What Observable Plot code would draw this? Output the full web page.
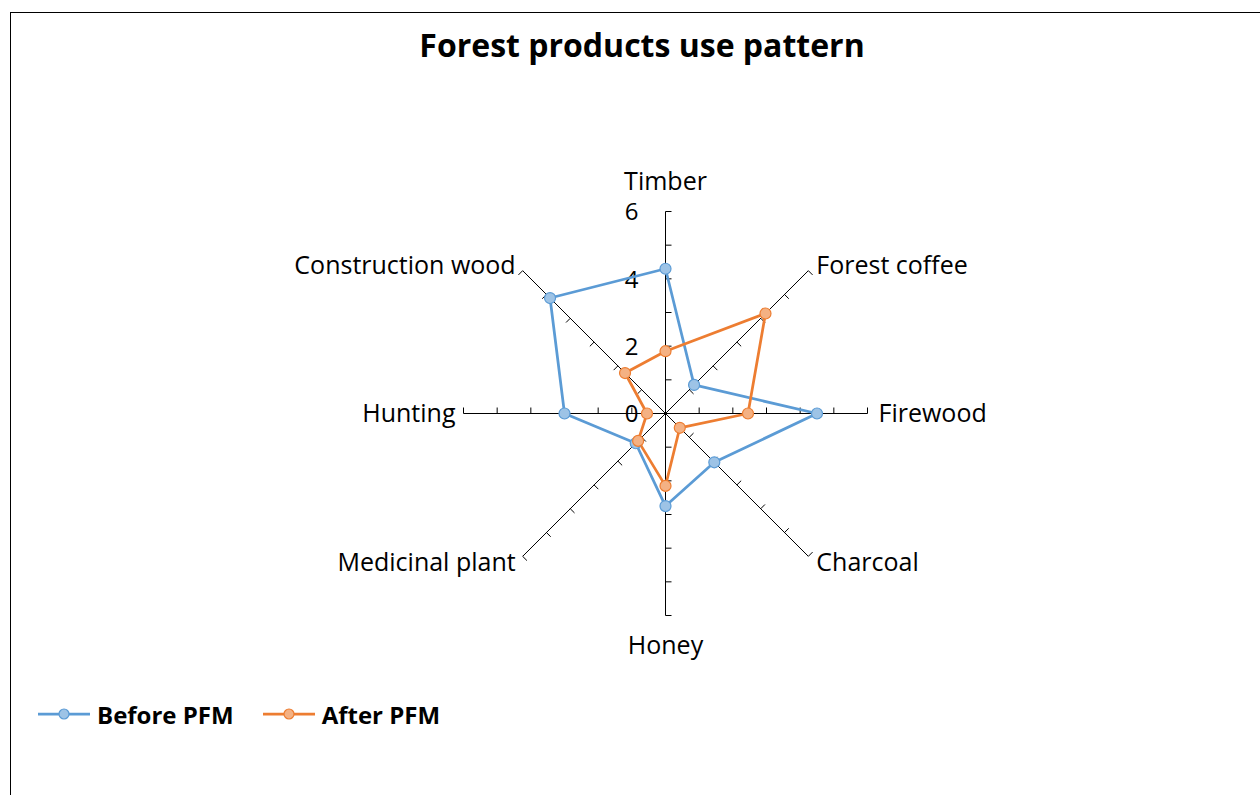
<!DOCTYPE html>
<html><head><meta charset="utf-8">
<script src="https://cdn.jsdelivr.net/npm/d3@7"></script>
<script src="https://cdn.jsdelivr.net/npm/@observablehq/plot@0.6"></script>
<style>
body{margin:0;background:#fff;overflow:hidden;font-family:"Open Sans",sans-serif;}
#wrap{position:relative;width:1260px;height:795px;overflow:hidden;}
#frame{position:absolute;left:10px;top:12px;width:1300px;height:820px;border-left:1.5px solid #000;border-top:1.5px solid #000;box-sizing:border-box;}
#title{position:absolute;left:10px;width:1264px;top:23px;text-align:center;font-weight:bold;font-size:32px;line-height:44px;color:#000;}
#chart{position:absolute;left:0;top:100px;}
#legend{position:absolute;left:0;top:698px;height:32px;display:flex;align-items:center;font-weight:bold;font-size:24px;color:#000;}
.item{display:flex;align-items:center;}
</style></head>
<body><div id="wrap"><div id="frame"></div><div id="title">Forest products use pattern</div><div id="chart"></div><div id="legend"></div></div>
<script>
const categories = ["Timber","Forest coffee","Firewood","Charcoal","Honey","Medicinal plant","Hunting","Construction wood"];
const seriesNames = ["Before PFM","After PFM"];
const beforePFM = [4.3, 1.2, 4.5, 2.05, 2.75, 1.25, 3.0, 4.85];
const afterPFM  = [1.85, 4.2, 2.45, 0.6, 2.15, 1.15, 0.55, 1.7];
const tickValues = [0, 2, 4, 6];
const tickLabels = ["0", "2", "4", "6"];
const maxValue = 6;

const colors = {"Before PFM": "#5B9BD5", "After PFM": "#ED7D31"};
const fills  = {"Before PFM": "#9DC3E6", "After PFM": "#F4B183"};

const W = 1260, H = 560, cx = 665, cy = 313, pxPerUnit = 202 / 6;
const n = categories.length;
const ang = i => i * 2 * Math.PI / n;
const px = (i, r) => r * Math.sin(ang(i));
const py = (i, r) => r * Math.cos(ang(i));

const spokes = categories.map((c, i) => ({c, x1: 0, y1: 0, x2: px(i, maxValue), y2: py(i, maxValue)}));
const side = [[1,0],[1,1],[0,-1],[1,-1],[1,0],[1,1],[0,-1],[-1,1]];
const tlen = 6 / pxPerUnit;
const ticks = [];
categories.forEach((c, i) => {
  const s = side[i], norm = Math.hypot(s[0], s[1]);
  for (let v = 1; v <= maxValue; v++) {
    const x = px(i, v), y = py(i, v);
    ticks.push({x1: x, y1: y, x2: x + tlen * s[0] / norm, y2: y - tlen * s[1] / norm});
  }
});

const rows = [];
seriesNames.forEach(s => {
  const vals = s === "Before PFM" ? beforePFM : afterPFM;
  categories.forEach((c, i) => rows.push({series: s, c, i, v: vals[i], x: px(i, vals[i]), y: py(i, vals[i])}));
});
const closed = s => {const r = rows.filter(d => d.series === s); return [...r, r[0]];};

const labelPos = [
  {dx: 0, dy: -30, anchor: "middle"},
  {dx: 8, dy: -5, anchor: "start"},
  {dx: 11, dy: 0, anchor: "start"},
  {dx: 8, dy: 7, anchor: "start"},
  {dx: 0, dy: 30, anchor: "middle"},
  {dx: -7, dy: 7, anchor: "end"},
  {dx: -8, dy: 0, anchor: "end"},
  {dx: -7, dy: -5, anchor: "end"}
];

const font = "'Open Sans', sans-serif";
const marks = [
  Plot.link(spokes, {x1: "x1", y1: "y1", x2: "x2", y2: "y2", stroke: "#000", strokeWidth: 1}),
  Plot.link(ticks, {x1: "x1", y1: "y1", x2: "x2", y2: "y2", stroke: "#000", strokeWidth: 1}),
  Plot.text(tickValues.map((v, j) => ({v, label: tickLabels[j]})), {x: 0, y: "v", text: "label", dx: -34, dy: 1, fontSize: 24, fill: "#000", textAnchor: "middle", fontFamily: font}),
  ...seriesNames.map(s => Plot.line(closed(s), {x: "x", y: "y", stroke: colors[s], strokeWidth: 2.75, curve: "linear"})),
  ...seriesNames.map(s => Plot.dot(rows.filter(d => d.series === s), {x: "x", y: "y", r: 5.5, fill: fills[s], stroke: colors[s], strokeWidth: 1.2})),
  ...categories.map((c, i) => Plot.text([c], {x: px(i, maxValue), y: py(i, maxValue), text: d => d, dx: labelPos[i].dx, dy: labelPos[i].dy, textAnchor: labelPos[i].anchor, fontSize: 25, fill: "#000", fontFamily: font}))
];

const chart = Plot.plot({
  width: W, height: H, margin: 0,
  x: {domain: [-cx / pxPerUnit, (W - cx) / pxPerUnit], axis: null},
  y: {domain: [-(H - cy) / pxPerUnit, cy / pxPerUnit], axis: null},
  style: {fontFamily: font, background: "transparent", overflow: "visible"},
  marks
});
document.getElementById("chart").appendChild(chart);

const legend = document.getElementById("legend");
seriesNames.forEach((s, k) => {
  const it = document.createElement("div");
  it.className = "item";
  it.style.marginLeft = k === 0 ? "38px" : "29px";
  it.innerHTML = `<svg width="52" height="14" style="margin-right:7px"><line x1="0" y1="7" x2="52" y2="7" stroke="${colors[s]}" stroke-width="2.75"/><circle cx="26" cy="7" r="5" fill="${fills[s]}" stroke="${colors[s]}" stroke-width="1.2"/></svg><span>${s}</span>`;
  legend.appendChild(it);
});
</script></body></html>
